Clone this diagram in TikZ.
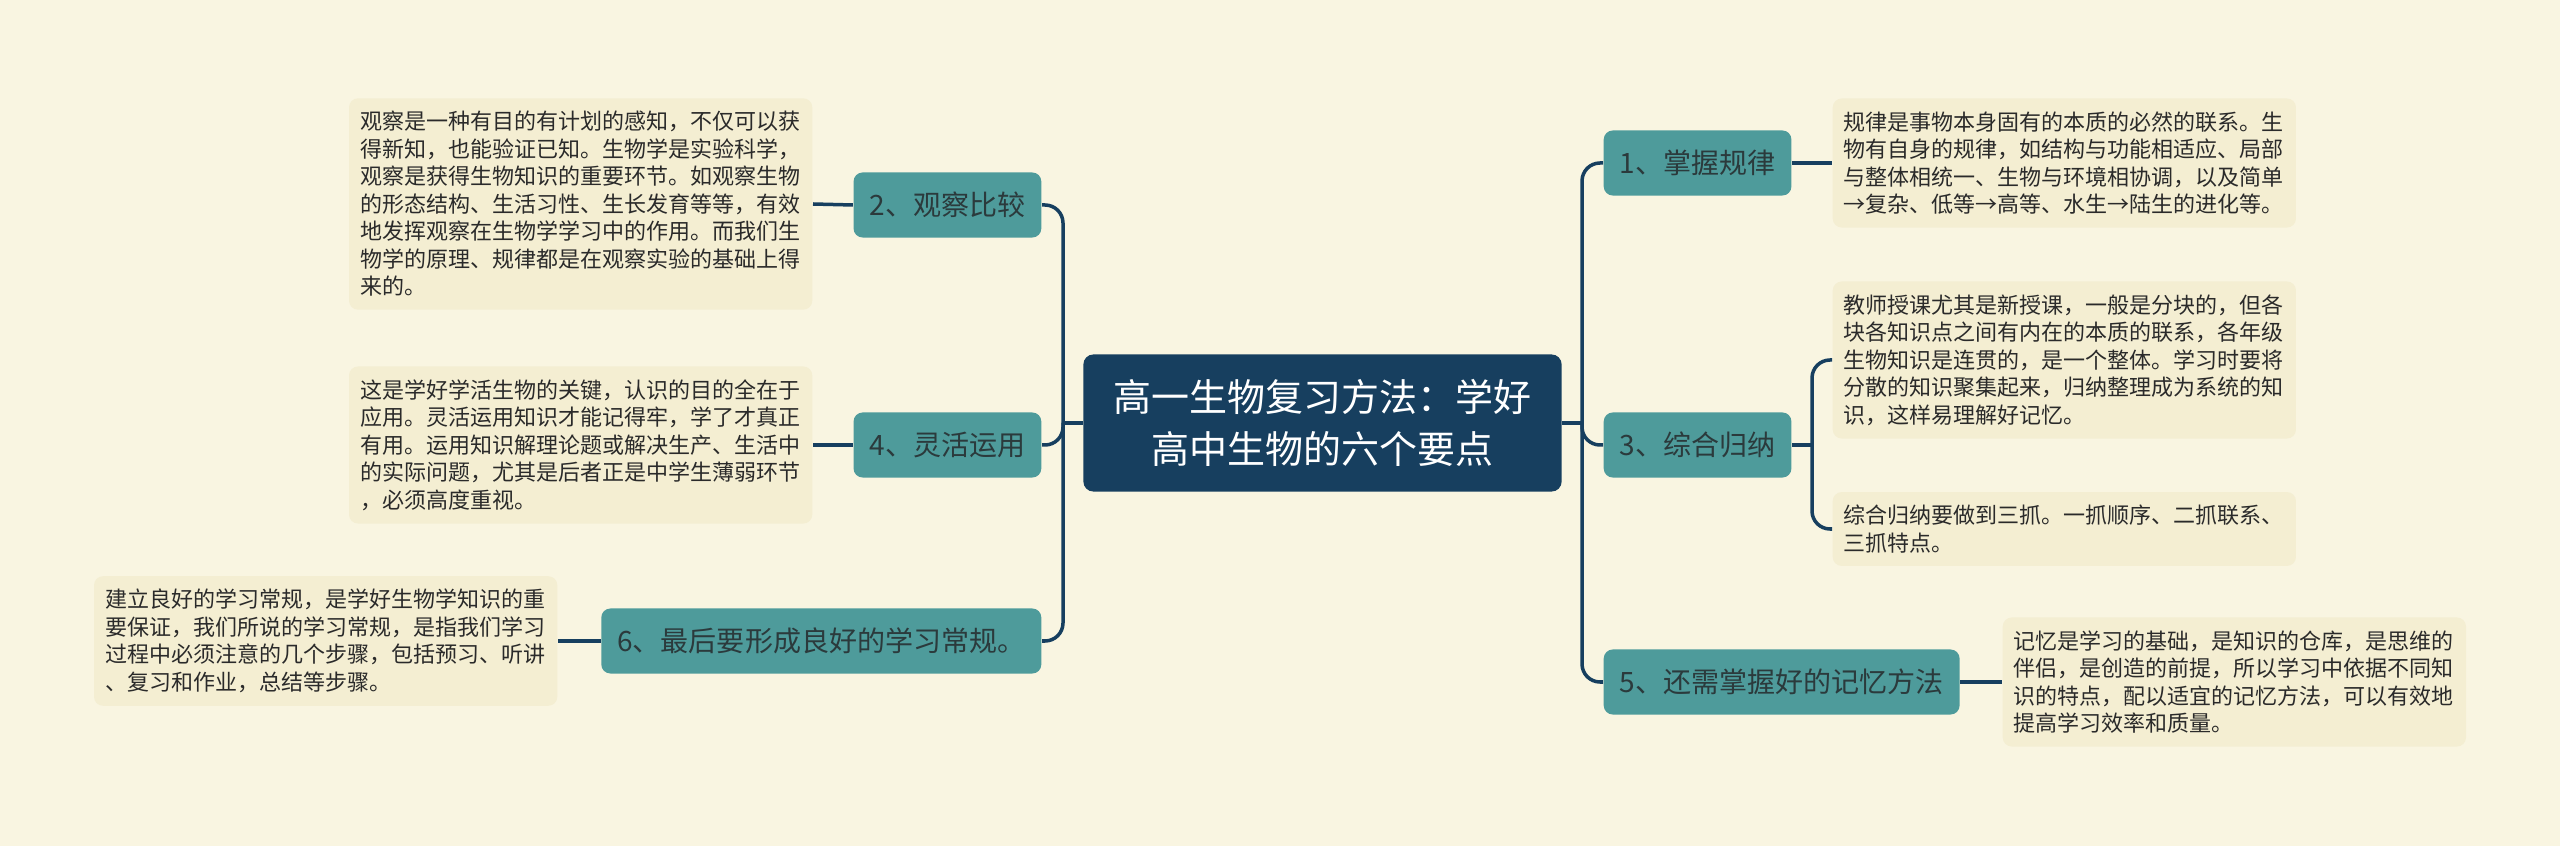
\documentclass[tikz,border=0pt]{standalone}
\usepackage{fontspec}
\usepackage{tikz}
\newfontfamily\cjk{Noto Sans CJK SC}
\definecolor{mmbg}{HTML}{F9F5E1}
\definecolor{mmnote}{HTML}{F4EED2}
\definecolor{mmteal}{HTML}{4E9B9B}
\definecolor{mmnavy}{HTML}{173F5F}
\definecolor{mmink}{HTML}{2B3A3C}
\definecolor{mmtext}{HTML}{2A2A2A}
\newcommand{\wto}{\makebox[1em]{→}}
\tikzset{
  root/.style={fill=mmnavy, text=white, rounded corners=0.1cm, align=center, minimum width=4.78cm, minimum height=1.37cm, font=\cjk\fontsize{10.8}{14.8}\selectfont},
  topic/.style={fill=mmteal, text=mmink, rounded corners=0.09cm, minimum height=0.65cm, inner xsep=0.16cm, font=\cjk\fontsize{7.97}{9}\selectfont},
  note/.style={fill=mmnote, text=mmtext, rounded corners=0.09cm, align=left, text width=4.41cm, inner xsep=0.11cm, inner ysep=0.13cm, font=\cjk\fontsize{6.26}{7.82}\selectfont},
  link/.style={draw=mmnavy, line width=0.035cm},
  elbow/.style={link, rounded corners=0.18cm}
}
\begin{document}
\begin{tikzpicture}[x=0.01cm,y=-0.01cm]
  \fill[mmbg] (0,0) rectangle (2560,846);
  \useasboundingbox (0,0) rectangle (2560,846);
  \node[root] (root) at (1322.5,423) {高一生物复习方法：学好\\高中生物的六个要点};
  \node[topic, anchor=east] (b2) at (1042,205) {2、观察比较};
  \node[topic, anchor=east] (b4) at (1042,445) {4、灵活运用};
  \node[topic, anchor=east] (b6) at (1042,641) {6、最后要形成良好的学习常规。};
  \node[topic, anchor=west] (b1) at (1603,163) {1、掌握规律};
  \node[topic, anchor=west] (b3) at (1603,445) {3、综合归纳};
  \node[topic, anchor=west] (b5) at (1603,682) {5、还需掌握好的记忆方法};
  \node[note, anchor=east] (t2) at (813,204) {观察是一种有目的有计划的感知，不仅可以获\\得新知，也能验证已知。生物学是实验科学，\\观察是获得生物知识的重要环节。如观察生物\\的形态结构、生活习性、生长发育等等，有效\\地发挥观察在生物学学习中的作用。而我们生\\物学的原理、规律都是在观察实验的基础上得\\来的。};
  \node[note, anchor=east] (t4) at (813,445) {这是学好学活生物的关键，认识的目的全在于\\应用。灵活运用知识才能记得牢，学了才真正\\有用。运用知识解理论题或解决生产、生活中\\的实际问题，尤其是后者正是中学生薄弱环节\\，必须高度重视。};
  \node[note, anchor=east] (t6) at (558,641) {建立良好的学习常规，是学好生物学知识的重\\要保证，我们所说的学习常规，是指我们学习\\过程中必须注意的几个步骤，包括预习、听讲\\、复习和作业，总结等步骤。};
  \node[note, anchor=west] (t1) at (1832,163) {规律是事物本身固有的本质的必然的联系。生\\物有自身的规律，如结构与功能相适应、局部\\与整体相统一、生物与环境相协调，以及简单\\\wto 复杂、低等\wto 高等、水生\wto 陆生的进化等。};
  \node[note, anchor=west] (t3a) at (1832,360) {教师授课尤其是新授课，一般是分块的，但各\\块各知识点之间有内在的本质的联系，各年级\\生物知识是连贯的，是一个整体。学习时要将\\分散的知识聚集起来，归纳整理成为系统的知\\识，这样易理解好记忆。};
  \node[note, anchor=west] (t3b) at (1832,529) {综合归纳要做到三抓。一抓顺序、二抓联系、\\三抓特点。};
  \node[note, anchor=west] (t5) at (2002,682) {记忆是学习的基础，是知识的仓库，是思维的\\伴侣，是创造的前提，所以学习中依据不同知\\识的特点，配以适宜的记忆方法，可以有效地\\提高学习效率和质量。};
  \coordinate (lhub) at (1063,423);
  \coordinate (rhub) at (1582,423);
  \coordinate (b3hub) at (1812,445);
  \draw[link] (root.west) -- (lhub);
  \draw[link] (root.east) -- (rhub);
  \draw[elbow] (lhub) |- (b2.east);
  \draw[elbow] (lhub) |- (b4.east);
  \draw[elbow] (lhub) |- (b6.east);
  \draw[elbow] (rhub) |- (b1.west);
  \draw[elbow] (rhub) |- (b3.west);
  \draw[elbow] (rhub) |- (b5.west);
  \draw[link] (b2.west) -- (t2.east);
  \draw[link] (b4.west) -- (t4.east);
  \draw[link] (b6.west) -- (t6.east);
  \draw[link] (b1.east) -- (t1.west);
  \draw[link] (b5.east) -- (t5.west);
  \draw[link] (b3.east) -- (b3hub);
  \draw[elbow] (b3hub) |- (t3a.west);
  \draw[elbow] (b3hub) |- (t3b.west);
\end{tikzpicture}
\end{document}
